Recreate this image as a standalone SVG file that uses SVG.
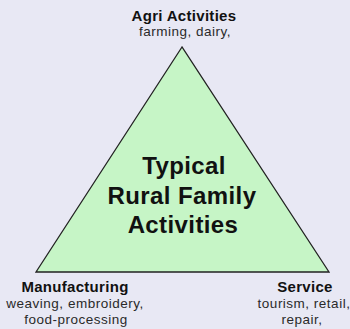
<svg xmlns="http://www.w3.org/2000/svg" width="350" height="329" viewBox="0 0 350 329">
<style>
.h{font-family:"Liberation Sans",Arial,sans-serif;font-weight:bold;font-size:15px;letter-spacing:0.3px;fill:#111;text-anchor:middle}
.s{font-family:"Liberation Sans",Arial,sans-serif;font-size:13.5px;letter-spacing:0.5px;fill:#2a2a2a;text-anchor:middle}
.c{font-family:"Liberation Sans",Arial,sans-serif;font-weight:bold;font-size:24px;letter-spacing:0.4px;fill:#111;text-anchor:middle}
</style>
<rect width="350" height="329" fill="#E8E8F4"/>
<g id="triangle">
<polygon points="182,47 36,272 329,272" fill="#C6F5C6" stroke="#222" stroke-width="1.3"/>
<text class="c" x="184" y="174">Typical</text>
<text class="c" x="182" y="204">Rural Family</text>
<text class="c" x="183" y="233">Activities</text>
</g>
<g id="agri">
<text class="h" x="184" y="21">Agri Activities</text>
<text class="s" x="185" y="36">farming, dairy,</text>
</g>
<g id="manufacturing">
<text class="h" x="75" y="292">Manufacturing</text>
<text class="s" x="75" y="308">weaving, embroidery,</text>
<text class="s" x="76" y="324">food-processing</text>
</g>
<g id="service">
<text class="h" x="305" y="292">Service</text>
<text class="s" x="304" y="308">tourism, retail,</text>
<text class="s" x="302" y="324">repair,</text>
</g>
<g id="connectors"></g>
</svg>
